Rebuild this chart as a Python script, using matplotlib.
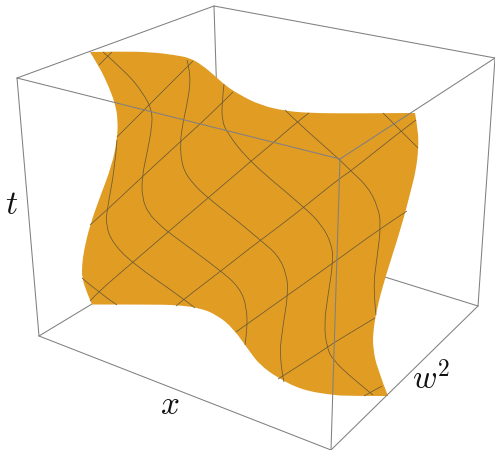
import matplotlib
matplotlib.use('Agg')
import matplotlib.pyplot as plt
from matplotlib.path import Path
from matplotlib.patches import PathPatch

plt.rcParams['mathtext.fontset'] = 'cm'

box_A = (17, 78)
box_B = (214, 6)
box_C = (495, 58)
box_D = (340, 159)
box_E = (39, 336)
box_F = (331, 450)
box_G = (478, 306)
box_H = (221, 226)

back_edges = [(box_B, box_H), (box_E, box_H), (box_G, box_H)]
front_edges = [(box_A, box_B), (box_B, box_C), (box_A, box_D), (box_C, box_D),
               (box_A, box_E), (box_D, box_F), (box_C, box_G), (box_E, box_F), (box_F, box_G)]

top_edge = [(90, 52), (120, 51.5), (150, 52), (175, 55), (190, 58), (202, 65), (215, 76), (226, 86),
            (240, 95), (260, 105), (285, 111), (310, 113), (350, 113.5), (415, 113)]
right_edge = [(415, 113), (418, 130), (418.5, 148), (416, 170), (411, 190), (402, 225), (385, 278),
              (377, 308), (373, 332), (373, 348), (377, 368), (388, 396)]
bottom_edge = [(388, 396), (350, 396), (332, 395), (302, 390), (278, 378), (260, 365), (250, 352),
               (233, 328), (217, 315), (200, 308), (177, 305), (150, 304.5), (92, 304.5)]
left_edge = [(92, 304.5), (87, 293), (82, 278), (82, 265), (84, 250), (90, 225), (100, 197), (112, 165),
             (117, 140), (118, 120), (115, 103), (108, 85), (100, 68), (90, 52)]

diag_lines = [
    [(99, 65), (112, 52)],
    [(117, 137), (193, 61)],
    [(90, 225), (107, 210), (142, 177), (180, 142), (199, 125), (222, 103), (233, 92)],
    [(90, 301), (98, 292), (132, 263), (168, 232), (208, 198), (250, 162), (273, 143), (297, 122), (309, 113)],
    [(176, 306), (184, 299), (221, 271), (250, 248), (281, 225), (304, 207), (340, 178), (351, 171), (401, 131), (416, 120)],
    [(236, 332), (250, 322), (288, 295), (333, 263), (381, 228), (407, 211)],
    [(278, 379), (327, 348), (333, 343), (375, 318)],
    [(364, 396), (382, 386)],
]
wavy_lines = [
    [(103, 52), (127, 73), (143, 93), (152, 110), (152, 127), (147, 153), (142, 177), (142, 197), (148, 213),
     (160, 225), (168, 232), (220, 270), (240, 288), (247, 308), (247, 332), (245, 345)],
    [(187, 60), (191, 75), (188, 100), (183, 122), (180, 143), (182, 167), (192, 183), (208, 198), (240, 223),
     (260, 240), (278, 255), (287, 275), (288, 295), (283, 325), (279, 358), (284, 382)],
    [(224, 84), (222, 103), (222, 120), (227, 133), (250, 162), (304, 207), (322, 225), (332, 245), (333, 263),
     (328, 295), (324, 325), (327, 348), (333, 360), (352, 378), (373, 395)],
    [(285, 110), (297, 122), (340, 160), (351, 171), (368, 187), (378, 207), (381, 225), (377, 258), (373, 288), (376, 315)],
    [(383, 113), (401, 131), (418, 148)],
    [(117, 140), (115, 167), (107, 210), (106, 225), (112, 242), (132, 263), (184, 299), (195, 308)],
    [(82, 278), (98, 292), (117, 305)],
]

axis_labels = ['$t$', '$x$', '$w^2$']
label_pos = [(12, 204), (170, 404), (431, 379)]

surface_color = '#e09c23'
box_color = '#808080'
mesh_color = '#6b5a35'


# quadratic pieces through the midpoints so the read points give a smooth curve
def smooth(points, first=True):
    verts = [points[0]] if first else []
    codes = [Path.MOVETO] if first else []
    for i in range(1, len(points) - 1):
        if i == len(points) - 2:
            end = points[-1]
        else:
            end = ((points[i][0] + points[i + 1][0]) / 2, (points[i][1] + points[i + 1][1]) / 2)
        verts += [points[i], end]
        codes += [Path.CURVE3, Path.CURVE3]
    if len(points) == 2:
        verts.append(points[1])
        codes.append(Path.LINETO)
    return verts, codes


fig = plt.figure(figsize=(4.95, 4.5), dpi=100)
ax = fig.add_axes([0, 0, 1, 1])
ax.set_xlim(0, 495)
ax.set_ylim(450, 0)
ax.axis('off')

for p, q in back_edges:
    ax.plot([p[0], q[0]], [p[1], q[1]], color=box_color, lw=0.75, zorder=1, solid_capstyle='round')

outline_v, outline_c = [], []
for n, edge in enumerate([top_edge, right_edge, bottom_edge, left_edge]):
    v, c = smooth(edge, first=(n == 0))
    outline_v += v
    outline_c += c
ax.add_patch(PathPatch(Path(outline_v, outline_c), facecolor=surface_color, edgecolor='none', zorder=2))

for line in diag_lines:
    v, c = smooth(line)
    ax.add_patch(PathPatch(Path(v, c), facecolor='none', edgecolor=mesh_color, lw=0.55, zorder=3))
for line in wavy_lines:
    v, c = smooth(line)
    ax.add_patch(PathPatch(Path(v, c), facecolor='none', edgecolor=mesh_color, lw=0.55, zorder=3))

for p, q in front_edges:
    ax.plot([p[0], q[0]], [p[1], q[1]], color=box_color, lw=0.75, zorder=4, solid_capstyle='round')

for label, pos in zip(axis_labels, label_pos):
    ax.text(pos[0], pos[1], label, fontsize=24, ha='center', va='center', color='#111111', zorder=5)

fig.savefig('out.png', dpi=100)
plt.close('all')
